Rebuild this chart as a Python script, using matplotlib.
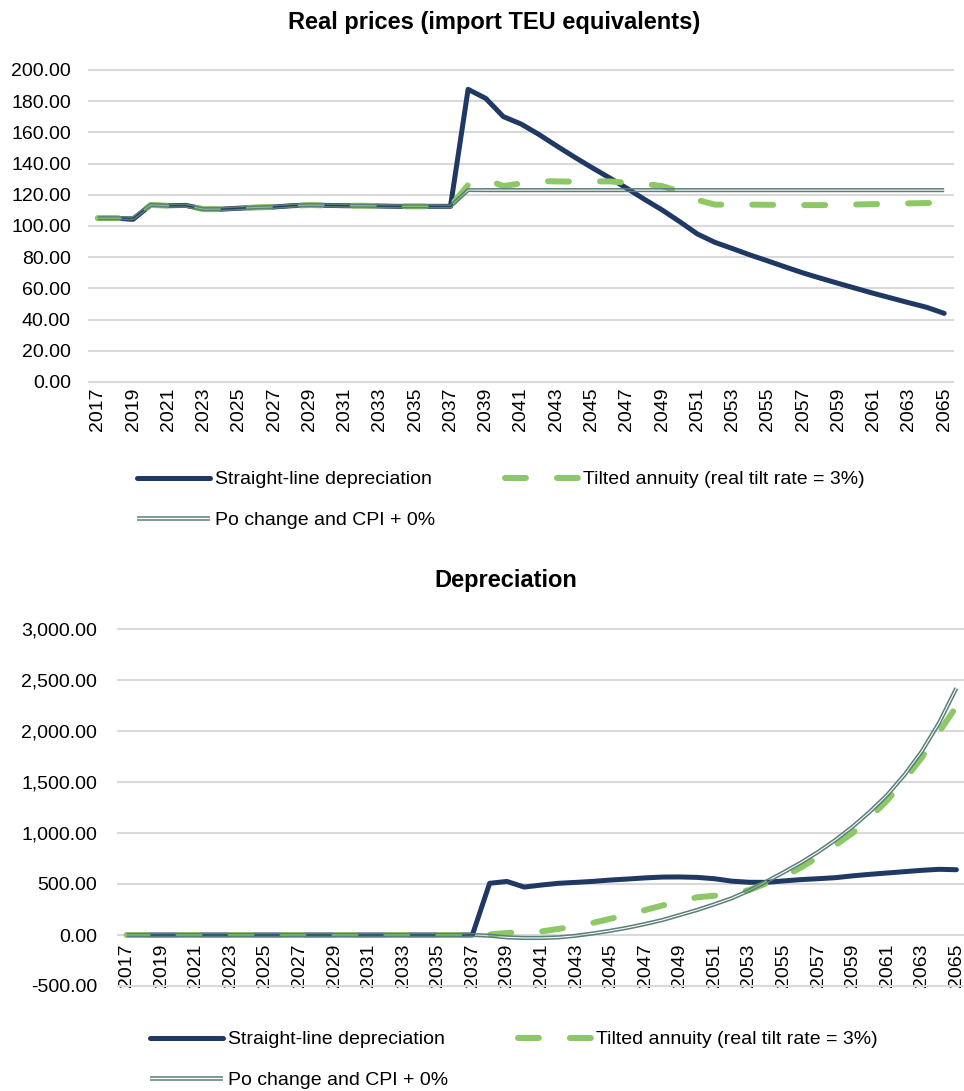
import numpy as np
import matplotlib
matplotlib.use("Agg")
import matplotlib.pyplot as plt
from matplotlib.patheffects import AbstractPathEffect
from matplotlib.path import Path
from matplotlib.transforms import IdentityTransform
from matplotlib.ticker import FuncFormatter

plt.rcParams['font.family'] = ['Liberation Sans', 'DejaVu Sans']

years = list(range(2017, 2066))

# real prices (import TEU equivalents)
early_price = [105.0, 105.0, 105.0, 113.5, 113.0, 113.0, 110.8, 110.8, 111.4, 111.9,
               112.2, 113.0, 113.4, 113.2, 113.0, 113.0, 112.8, 112.6, 112.6, 112.6, 112.6]
straight_price = [105.0, 105.0, 104.3, 113.5, 113.0, 113.2, 110.8, 110.8, 111.4, 111.9,
                  112.2, 113.0, 113.4, 113.2, 113.0, 113.0, 112.8, 112.6, 112.6, 112.6, 112.6,
                  187.6, 181.8, 170.1, 165.4, 158.8, 151.5, 144.4, 137.6, 131.0, 124.2,
                  117.1, 110.3, 102.8, 94.9, 89.5, 85.5, 81.4, 77.6, 73.7, 69.9,
                  66.5, 63.2, 60.0, 56.8, 53.8, 50.8, 47.9, 44.0]
tilted_price = early_price + [126.3, 129.9, 125.6, 127.3, 128.8, 128.6, 128.4, 128.6, 128.6, 127.8,
                              127.0, 125.6, 122.2, 116.7, 113.7, 113.7, 113.7, 113.6, 113.5, 113.4,
                              113.4, 113.5, 113.8, 114.0, 114.2, 114.5, 114.7, 114.8]
po_price = early_price + [123.0] * 28

# depreciation
zeros = [0.0] * 21
straight_dep = zeros + [507, 525, 470, 490, 507, 516, 526, 539, 549, 560,
                        568, 569, 565, 552, 528, 517, 516, 530, 543, 552,
                        562, 580, 595, 608, 621, 634, 644, 640]
tilted_dep = zeros + [5, 20, 28, 35, 60, 90, 120, 160, 200, 245,
                      290, 330, 370, 385, 405, 440, 505, 570, 660, 765,
                      880, 1000, 1150, 1320, 1520, 1740, 1990, 2240]
po_dep = zeros + [-7, -23, -29, -29, -23, -7, 16, 42, 72, 108,
                  147, 196, 245, 301, 360, 435, 523, 614, 709, 814,
                  931, 1062, 1209, 1373, 1570, 1800, 2080, 2420]

labels = ['Straight-line depreciation', 'Po change and CPI + 0%',
          'Tilted annuity (real tilt rate = 3%)']

BLUE = '#1F3864'
GREEN = '#8CC866'
TEAL = '#5B7F7A'
GRID = '#D9D9D9'


class DoubleLine(AbstractPathEffect):
    # excel style "double" line: two thin strokes, see-through gap
    def __init__(self, gap=0.95, width=1.1, color=TEAL):
        super().__init__()
        self.gap = gap
        self.width = width
        self.color = color

    def draw_path(self, renderer, gc, tpath, affine, rgbFace=None):
        pts = affine.transform(tpath.vertices)
        d = np.gradient(pts, axis=0)
        n = np.column_stack([-d[:, 1], d[:, 0]])
        n /= np.hypot(n[:, 0], n[:, 1])[:, None]
        off = renderer.points_to_pixels(self.gap)
        for s in (1, -1):
            gc0 = renderer.new_gc()
            gc0.copy_properties(gc)
            gc0.set_linewidth(self.width)
            gc0.set_foreground(self.color)
            gc0.set_capstyle('butt')
            renderer.draw_path(gc0, Path(pts + s * off * n), IdentityTransform())
            gc0.restore()


def draw_lines(ax, s, t, p):
    l1, = ax.plot(years, s, color=BLUE, lw=3.6, solid_capstyle='round',
                  solid_joinstyle='round', zorder=3)
    l3, = ax.plot(years, t, color=GREEN, lw=4.3, ls=(0, (3.5, 5.2)),
                  dash_capstyle='round', zorder=4)
    l2, = ax.plot(years, p, color=TEAL, lw=3, zorder=5,
                  path_effects=[DoubleLine()])
    return [l1, l2, l3]


def style_axis(ax, fmt, ypad, xpad):
    ax.set_xlim(2016.5, 2065.5)
    ax.set_xticks(years[::2])
    ax.set_xticklabels([str(y) for y in years[::2]])
    ax.yaxis.set_major_formatter(FuncFormatter(fmt))
    ax.tick_params(axis='both', length=0, labelsize=14, colors='black')
    ax.tick_params(axis='y', pad=ypad)
    ax.tick_params(axis='x', pad=xpad, labelrotation=90)
    for sp in ax.spines.values():
        sp.set_visible(False)
    ax.grid(axis='y', color=GRID, lw=1.5)
    ax.grid(axis='x', visible=False)
    ax.set_axisbelow(True)
    for gl in ax.get_ygridlines():
        gl.set_clip_on(False)


W, H = 964, 1091
fig = plt.figure(figsize=(W / 100, H / 100), dpi=100)

# top chart
ax1 = fig.add_axes([89 / W, 1 - 382 / H, (953 - 89) / W, (382 - 70) / H])
h = draw_lines(ax1, straight_price, tilted_price, po_price)
ax1.set_ylim(0, 200)
ax1.set_yticks(np.arange(0, 201, 20))
style_axis(ax1, lambda v, p: f'{v:.2f}', 13, 4)
fig.text(494 / W, 1 - 22 / H, 'Real prices (import TEU equivalents)',
         ha='center', va='center', fontsize=17, fontweight='bold')
fig.legend(h, labels, ncol=2, loc='center left', frameon=False,
           bbox_to_anchor=(137 / W, 1 - 500 / H), borderpad=0, borderaxespad=0,
           fontsize=14, handlelength=3.75, handletextpad=0.25,
           columnspacing=3.6, labelspacing=1.2)

# bottom chart
ax2 = fig.add_axes([118 / W, 1 - 986 / H, (965 - 118) / W, (986 - 629) / H])
ax2.spines['bottom'].set_position(('data', 0))
h = draw_lines(ax2, straight_dep, tilted_dep, po_dep)
ax2.set_ylim(-500, 3000)
ax2.set_yticks(np.arange(-500, 3001, 500))
style_axis(ax2, lambda v, p: f'{v:,.2f}', 15, 6)
fig.text(506 / W, 1 - 580 / H, 'Depreciation',
         ha='center', va='center', fontsize=17, fontweight='bold')
fig.legend(h, labels, ncol=2, loc='center left', frameon=False,
           bbox_to_anchor=(150 / W, 1 - 1060 / H), borderpad=0, borderaxespad=0,
           fontsize=14, handlelength=3.75, handletextpad=0.25,
           columnspacing=3.6, labelspacing=1.2)

fig.savefig('out.png', dpi=100)
